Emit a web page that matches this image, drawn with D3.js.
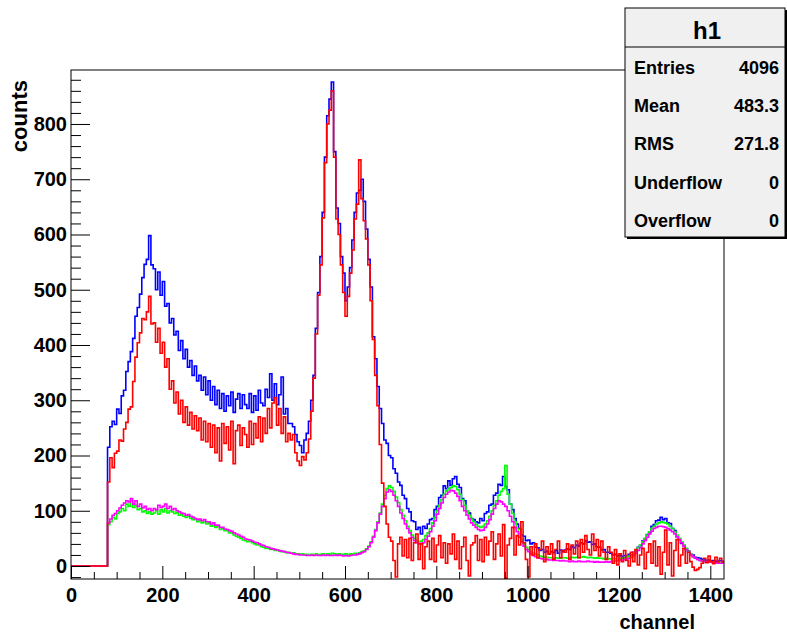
<!DOCTYPE html>
<html>
<head>
<meta charset="utf-8">
<script src="https://cdn.jsdelivr.net/npm/d3@7"></script>
<style>
  body { margin: 0; background: #fff; }
  svg { display: block; font-family: "Liberation Sans", Arial, sans-serif; font-weight: bold; }
</style>
</head>
<body>
<div id="chart"></div>
<script>
// histogram content, 5-channel bins starting at channel 0 (nothing below ch 80)
const binWidth = 5;
const lastChannel = 1430;

const blueCounts = [
  0,0,0,0,0,0,0,0,0,0,0,0,0,0,0,0,
  215,252,262,256,284,276,308,318,352,370,388,412,452,468,492,522,546,555,598,545,
  538,500,532,490,515,470,475,440,448,418,425,390,408,375,392,360,372,345,362,335,
  345,318,342,310,335,300,325,292,318,285,312,280,308,290,315,278,302,312,285,310,
  292,285,312,278,308,282,318,295,290,320,305,348,300,330,292,310,342,275,285,258,
  258,252,238,225,218,205,228,240,262,300,345,430,495,560,640,740,815,845,876,750,
  648,620,560,530,480,505,540,590,640,675,680,700,660,610,555,505,415,375,325,285,
  258,228,222,200,196,176,168,152,146,128,122,104,98,82,80,66,70,58,72,68,
  76,84,86,102,108,124,128,145,140,154,146,158,162,148,142,122,118,100,96,86,
  84,80,78,86,82,95,98,110,112,128,132,148,146,162,144,138,112,102,86,76,
  68,56,54,46,47,40,42,34,33,28,30,25,27,22,26,24,28,23,29,26,
  29,31,30,35,33,38,36,42,40,46,43,44,39,40,35,34,29,30,25,25,
  23,20,21,18,19,17,19,18,21,20,25,27,34,37,45,49,57,61,72,75,
  82,83,88,84,86,78,77,68,64,53,48,41,37,31,27,21,20,16,15,14,
  12,11,10,11,9,10,8,9,10,8
];

const greenCounts = [
  0,0,0,0,0,0,0,0,0,0,0,0,0,0,0,0,
  75,80,88,85,95,98,104,100,112,108,118,106,110,102,104,98,100,95,98,94,
  96,100,94,102,98,104,96,100,98,95,97,92,94,90,88,90,86,84,85,80,
  82,78,80,76,78,72,74,70,72,66,68,64,64,60,60,56,54,52,50,47,
  46,44,45,42,40,38,38,35,34,32,32,30,30,28,29,27,26,26,24,25,
  23,24,22,22,21,22,20,21,20,21,20,22,20,21,22,20,22,21,23,22,
  21,22,20,21,22,20,22,21,23,22,24,26,27,31,36,44,54,66,80,96,
  112,128,140,145,142,135,125,115,102,92,82,72,64,56,50,46,44,45,48,55,
  60,68,78,88,100,110,120,130,136,140,142,145,144,138,130,120,110,100,92,85,
  80,75,72,70,72,76,82,90,100,110,118,128,135,140,182,130,112,95,80,68,
  58,48,40,34,30,26,24,22,20,18,17,16,16,15,15,14,15,14,14,15,
  15,14,15,16,15,16,15,16,17,16,15,16,15,14,15,14,14,13,14,13,
  13,14,13,14,13,14,15,16,18,20,24,28,33,38,44,50,56,62,68,72,
  76,78,80,79,78,76,72,68,62,56,50,44,38,32,26,21,17,14,12,10,
  9,8,8,7,7,6,6,6,5,5
];

const magentaCounts = [
  0,0,0,0,0,0,0,0,0,0,0,0,0,0,0,0,
  78,85,92,95,100,105,110,114,118,116,122,112,118,108,112,105,108,102,104,100,
  104,102,110,106,108,112,104,108,102,104,100,98,96,95,92,93,90,88,86,84,
  85,82,84,80,80,76,78,74,74,70,70,67,66,64,63,60,58,56,54,52,
  49,48,47,45,43,42,40,38,37,35,34,32,31,30,29,28,27,26,25,24,
  23,22,21,21,20,20,20,19,19,20,19,20,19,19,20,19,20,19,19,20,
  19,20,19,18,19,18,19,20,20,21,22,24,26,30,35,42,52,64,78,94,
  108,122,134,138,135,128,118,108,96,86,76,68,60,52,46,42,40,41,42,48,
  54,62,72,82,94,104,114,124,130,134,137,136,132,126,118,108,100,92,85,78,
  74,70,66,64,65,70,76,84,94,104,112,118,116,112,108,100,90,80,70,62,
  52,44,36,30,26,22,19,17,15,14,13,12,12,11,11,10,10,10,9,10,
  9,9,8,9,8,8,9,8,8,8,9,8,8,7,8,7,7,7,8,7,
  8,9,9,10,11,11,12,13,14,16,19,23,28,33,40,46,52,58,63,68,
  70,72,72,71,70,68,65,62,58,53,48,42,36,30,25,20,17,14,12,10,
  9,8,8,7,7,6,6,5,5,5
];

const redCounts = [
  0,0,0,0,0,0,0,0,0,0,0,0,0,0,0,0,
  152,196,178,204,208,228,226,248,260,284,288,334,378,404,422,448,446,460,488,438,
  440,405,430,385,405,360,375,320,335,295,315,275,300,260,288,255,278,248,272,245,
  268,228,262,225,258,215,255,205,250,190,258,222,252,210,262,185,245,255,218,250,
  238,215,262,220,258,232,270,225,268,240,285,250,295,305,255,285,240,270,225,240,
  228,238,205,190,182,198,192,205,230,280,340,420,490,545,630,730,800,825,860,740,
  628,600,545,495,452,488,530,572,628,655,735,665,625,592,545,480,410,345,290,220,
  150,108,76,52,45,10,-20,40,52,18,48,15,50,10,42,58,12,40,-5,35,
  45,12,50,8,38,55,15,42,5,40,22,58,12,45,-5,35,52,10,-18,38,
  42,55,10,48,8,52,20,45,62,12,40,58,18,75,-22,38,50,70,20,55,
  38,80,42,12,-20,35,20,40,15,30,45,8,35,22,40,12,30,45,15,28,
  25,40,12,38,22,45,15,48,25,55,30,20,58,28,48,18,45,25,12,35,
  25,5,30,2,22,8,28,10,0,25,8,30,2,20,32,-5,25,40,5,45,
  0,35,-15,25,65,2,42,-18,28,48,0,20,32,5,25,8,-2,-8,-6,-3,
  5,14,6,18,8,4,16,8,14,8
];

const seriesList = [
  { name: 'blue', counts: blueCounts, color: '#0000ff' },
  { name: 'green', counts: greenCounts, color: '#00ff00' },
  { name: 'magenta', counts: magentaCounts, color: '#ff00ff' },
  { name: 'red', counts: redCounts, color: '#ff0000' }
];

const xMajorTicks = [0, 200, 400, 600, 800, 1000, 1200, 1400];
const yMajorTicks = [0, 100, 200, 300, 400, 500, 600, 700, 800];

const statsTitle = 'h1';
const statsLabels = ['Entries', 'Mean', 'RMS', 'Underflow', 'Overflow'];
const statsValues = ['4096', '483.3', '271.8', '0', '0'];

const width = 787, height = 635;
const frame = { left: 71, right: 724, top: 70, bottom: 579 };

const svg = d3.select('#chart').append('svg')
  .attr('width', width)
  .attr('height', height);

const x = d3.scaleLinear().domain([0, lastChannel]).range([frame.left, frame.right]);
const y = d3.scaleLinear().domain([-23.5, 897.7]).range([frame.bottom, frame.top]);

svg.append('clipPath').attr('id', 'frameClip')
  .append('rect')
  .attr('x', frame.left).attr('y', frame.top)
  .attr('width', frame.right - frame.left)
  .attr('height', frame.bottom - frame.top);

// histogram step lines
const line = d3.line()
  .x(d => x(d[0]))
  .y(d => y(d[1]))
  .curve(d3.curveStepAfter);

const plot = svg.append('g').attr('clip-path', 'url(#frameClip)');
seriesList.forEach(s => {
  const pts = s.counts.map((v, i) => [i * binWidth, v]);
  pts.push([lastChannel, s.counts[s.counts.length - 1]]);
  plot.append('path')
    .datum(pts)
    .attr('fill', 'none')
    .attr('stroke', s.color)
    .attr('stroke-width', 1.6)
    .attr('d', line);
});

// frame
svg.append('rect')
  .attr('x', frame.left).attr('y', frame.top)
  .attr('width', frame.right - frame.left)
  .attr('height', frame.bottom - frame.top)
  .attr('fill', 'none')
  .attr('stroke', '#000')
  .attr('stroke-width', 1);

// x axis, ticks pointing into the frame
const xMinor = d3.range(0, lastChannel + 1, 50).filter(v => v % 200 !== 0);
svg.append('g')
  .attr('transform', `translate(0,${frame.bottom})`)
  .call(d3.axisBottom(x).tickValues(xMinor).tickSizeInner(-7).tickSizeOuter(0).tickFormat(''))
  .call(g => g.select('.domain').remove());
svg.append('g')
  .attr('transform', `translate(0,${frame.bottom})`)
  .call(d3.axisBottom(x).tickValues(xMajorTicks).tickSizeInner(-13).tickSizeOuter(0).tickPadding(9).tickFormat(d3.format('d')))
  .call(g => g.select('.domain').remove())
  .call(g => g.selectAll('text')
    .attr('fill', '#000')
    .style('font-size', '20px')
    .style('font-weight', 'bold')
    .style('font-family', '"Liberation Sans", Arial, sans-serif'));

// y axis
const yMinor = d3.range(-20, 881, 20).filter(v => v % 100 !== 0);
svg.append('g')
  .attr('transform', `translate(${frame.left},0)`)
  .call(d3.axisLeft(y).tickValues(yMinor).tickSizeInner(-10).tickSizeOuter(0).tickFormat(''))
  .call(g => g.select('.domain').remove());
svg.append('g')
  .attr('transform', `translate(${frame.left},0)`)
  .call(d3.axisLeft(y).tickValues(yMajorTicks).tickSizeInner(-19).tickSizeOuter(0).tickPadding(4).tickFormat(d3.format('d')))
  .call(g => g.select('.domain').remove())
  .call(g => g.selectAll('text')
    .attr('fill', '#000')
    .style('font-size', '20px')
    .style('font-weight', 'bold')
    .style('font-family', '"Liberation Sans", Arial, sans-serif'));

// axis titles
svg.append('text')
  .attr('x', 695).attr('y', 629)
  .attr('text-anchor', 'end')
  .style('font-size', '20px')
  .text('channel');

svg.append('text')
  .attr('transform', 'translate(27,80) rotate(-90)')
  .attr('text-anchor', 'end')
  .style('font-size', '22px')
  .text('counts');

// stats box
const box = { x: 625, y: 8, w: 160, h: 229 };
svg.append('rect')
  .attr('x', box.x + 2).attr('y', box.y + 2)
  .attr('width', box.w).attr('height', box.h)
  .attr('fill', '#000');
svg.append('rect')
  .attr('x', box.x).attr('y', box.y)
  .attr('width', box.w).attr('height', box.h)
  .attr('fill', '#f0f0f0')
  .attr('stroke', '#000')
  .attr('stroke-width', 1);
svg.append('line')
  .attr('x1', box.x).attr('x2', box.x + box.w)
  .attr('y1', 47).attr('y2', 47)
  .attr('stroke', '#000');
svg.append('text')
  .attr('x', 707).attr('y', 39)
  .attr('text-anchor', 'middle')
  .style('font-size', '24px')
  .text(statsTitle);

statsLabels.forEach((lab, i) => {
  const yy = 74 + i * 38.2;
  svg.append('text')
    .attr('x', 634).attr('y', yy)
    .style('font-size', '18px')
    .text(lab);
  svg.append('text')
    .attr('x', 779).attr('y', yy)
    .attr('text-anchor', 'end')
    .style('font-size', '18px')
    .text(statsValues[i]);
});
</script>
</body>
</html>
